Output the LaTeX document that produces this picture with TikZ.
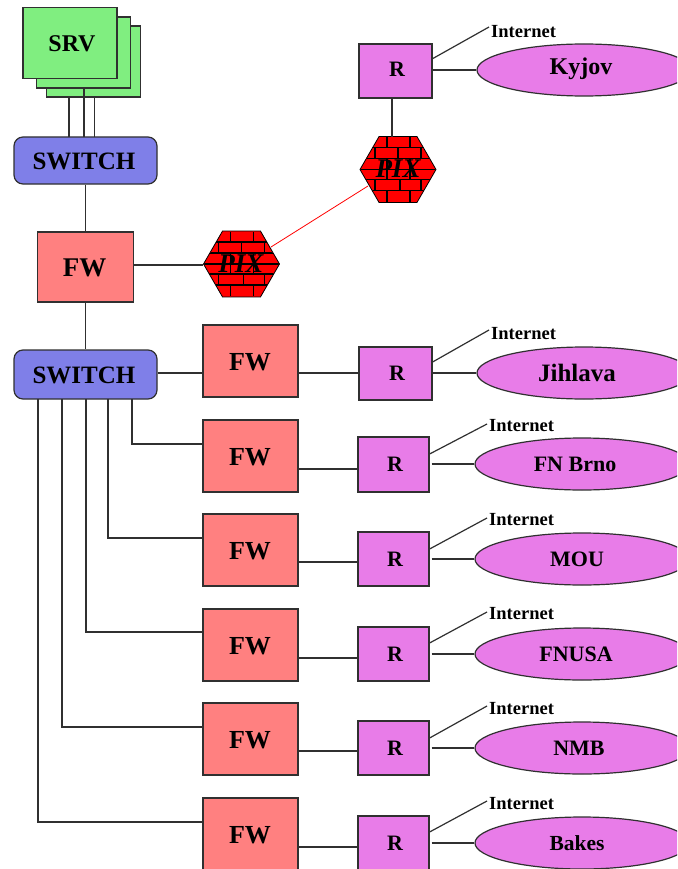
\documentclass[tikz,border=0pt]{standalone}
\usepackage{fontspec}
\setmainfont{Liberation Serif}
\usetikzlibrary{shapes.geometric,calc}
\definecolor{srvc}{HTML}{80EE80}
\definecolor{swc}{HTML}{7F7FE8}
\definecolor{fwc}{HTML}{FF8080}
\definecolor{rc}{HTML}{E87CE8}
\definecolor{linec}{HTML}{303030}
\newcommand{\fsz}[1]{\fontsize{#1}{#1}\selectfont\bfseries}
\newcommand{\brickwall}[2]{%
\begin{scope}[shift={(#1,#2)}]
\clip (-37.5,0)--(-19,-32.5)--(19,-32.5)--(37.5,0)--(19,32.5)--(-19,32.5)--cycle;
\draw[black,line width=1.7pt]
 (-40,-22)--(40,-22) (-40,-11)--(40,-11) (-40,0)--(40,0) (-40,10)--(40,10) (-40,21)--(40,21)
 (-11,-32)--(-11,-22) (12,-32)--(12,-22)
 (-23,-22)--(-23,-11) (0,-22)--(0,-11) (23,-22)--(23,-11)
 (-11,-11)--(-11,0) (12,-11)--(12,0)
 (-11,0)--(-11,10) (12,0)--(12,10)
 (-23,10)--(-23,21) (2,10)--(2,21) (23,10)--(23,21)
 (-11,21)--(-11,32) (12,21)--(12,32);
\end{scope}}
\tikzset{
 x=1pt,y=-1pt,
 conn/.style={draw=linec,line width=1.2pt},
 box/.style={draw=linec,line width=1.2pt,inner sep=0pt,align=center},
 srvbox/.style={box,fill=srvc,minimum width=94pt,minimum height=71pt},
 swbox/.style={box,fill=swc,rounded corners=9pt,minimum width=143pt},
 fwbox/.style={box,fill=fwc,minimum width=95pt,minimum height=72pt},
 rbox/.style={box,fill=rc},
 site/.style={box,fill=rc,ellipse,minimum width=214pt,minimum height=52pt},
 pix/.style={draw=black,line width=.8pt,fill=red,regular polygon,regular polygon sides=6,minimum size=76pt,inner sep=0pt},
 txt/.style={inner sep=0pt},
 pixtxt/.style={inner sep=0pt,font=\fsz{27}\itshape},
 nettxt/.style={inner sep=0pt,anchor=west,font=\fsz{18.5}}
}
\begin{document}
\begin{tikzpicture}
\useasboundingbox (0,0) rectangle (677,869);
\clip (0,0) rectangle (677,869);
\fill[white] (0,0) rectangle (677,869);
% servers
\node[srvbox] (srv3) at (93.5,61.5) {};
\node[srvbox] (srv2) at (83.5,52.5) {};
\node[srvbox] (srv1) at (70,43) {};
\node[txt,font=\fsz{24}] (srv1t) at (72,44) {SRV};
\node[swbox,minimum height=47pt] (sw1) at (85.5,160.5) {};
\node[txt,font=\fsz{25}] (sw1t) at (84,161) {SWITCH};
\node[fwbox,minimum width=96pt,minimum height=70pt] (fw0) at (85.5,267) {};
\node[txt,font=\fsz{27}] (fw0t) at (84.5,268) {FW};
\node[swbox,minimum height=49pt] (sw2) at (85.5,374.5) {};
\node[txt,font=\fsz{25}] (sw2t) at (84,375) {SWITCH};
\node[pix] (pix1) at (241.5,264) {};
\brickwall{241.5}{264}
\node[pixtxt] (pix1t) at (241,264) {PIX};
\node[pix] (pix2) at (398,169.5) {};
\brickwall{398}{169.5}
\node[pixtxt] (pix2t) at (398,169) {PIX};
\node[rbox,minimum width=73pt,minimum height=54pt] (r0) at (395.5,71) {};
\node[txt,font=\fsz{22}] (r0t) at (397,69) {R};
\node[site] (e0) at (584,70) {};
\node[txt,font=\fsz{24}] (e0t) at (581,69) {Kyjov};
\node[nettxt] (n0) at (491,32) {Internet};
\coordinate (n0e) at (489,27);
\draw[conn] (srv3.south -| 69,0) -- (69,137);
\draw[conn] (srv2.south -| 84,0) -- (84,137);
\draw[conn] (srv3.south -| 94.5,0) -- (94.5,137);
\draw[conn] (sw1.south) -- (fw0.north);
\draw[conn] (fw0.south) -- (sw2.north);
\draw[conn] (fw0.east |- 0,265) -- (pix1.west |- 0,265);
\draw[red,line width=.8pt] (271,247) -- (368,186);
\draw[conn] (r0.south -| 392,0) -- (392,137);
\draw[conn] (432,59) -- (n0e);
\draw[conn] (r0.east |- e0.west) -- (e0.west);
% rows
\foreach \i/\fy/\rx/\rw/\rh/\ry/\lf/\gap/\ex/\ey/\tx/\nm/\fs/\na/\nb/\nt/\nx/\sx/\sy in {
 1/361/395.5/73/53/373.5/373/0/584/373/577/Jihlava/25/362/330/334/491/0/0,
 2/456/393.5/71/55/464.5/469/2/582/464/575/FN Brno/22/454/424/426/489/132/444,
 3/550/393.5/71/54/559/562/2/582/559/577/MOU/22/549/518/520/489/108/538,
 4/645/393.5/71/54/654/658/2/582/654/576/FNUSA/22/643/612/614/489/86/632,
 5/739/393.5/71/54/748/751/2/582/748/579/NMB/22/738/706/709/489/62/727,
 6/834/393.5/71/54/843/847/2/582/843/577/Bakes/21.5/832/801/804/489/38/822}{
 \node[fwbox] (fw\i) at (250.5,\fy) {};
 \node[txt,font=\fsz{26}] (fw\i t) at (250,\fy+1) {FW};
 \node[rbox,minimum width=\rw pt,minimum height=\rh pt] (r\i) at (\rx,\ry) {};
 \node[txt,font=\fsz{22}] (r\i t) at (\rx+1.5,\ry) {R};
 \node[site] (e\i) at (\ex,\ey) {};
 \node[txt,font=\fsz{\fs}] (e\i t) at (\tx,\ey) {\nm};
 \node[nettxt] (n\i) at (\nx,\nt) {Internet};
 \coordinate (n\i e) at (\nx-2,\nb);
 \draw[conn] (fw\i.east |- 0,\lf) -- (r\i.west |- 0,\lf);
 \draw[conn,shorten <=\gap pt] (r\i.east |- e\i.west) -- (e\i.west);
 \draw[conn] (r\i.east |- 0,\na) -- (n\i e);
 \ifnum\i=1
  \draw[conn] (sw2.east |- 0,373) -- (fw\i.west |- 0,373);
 \else
  \draw[conn] (\sx,399) -- (\sx,\sy) -- (fw\i.west |- 0,\sy);
 \fi
}
\end{tikzpicture}
\end{document}
